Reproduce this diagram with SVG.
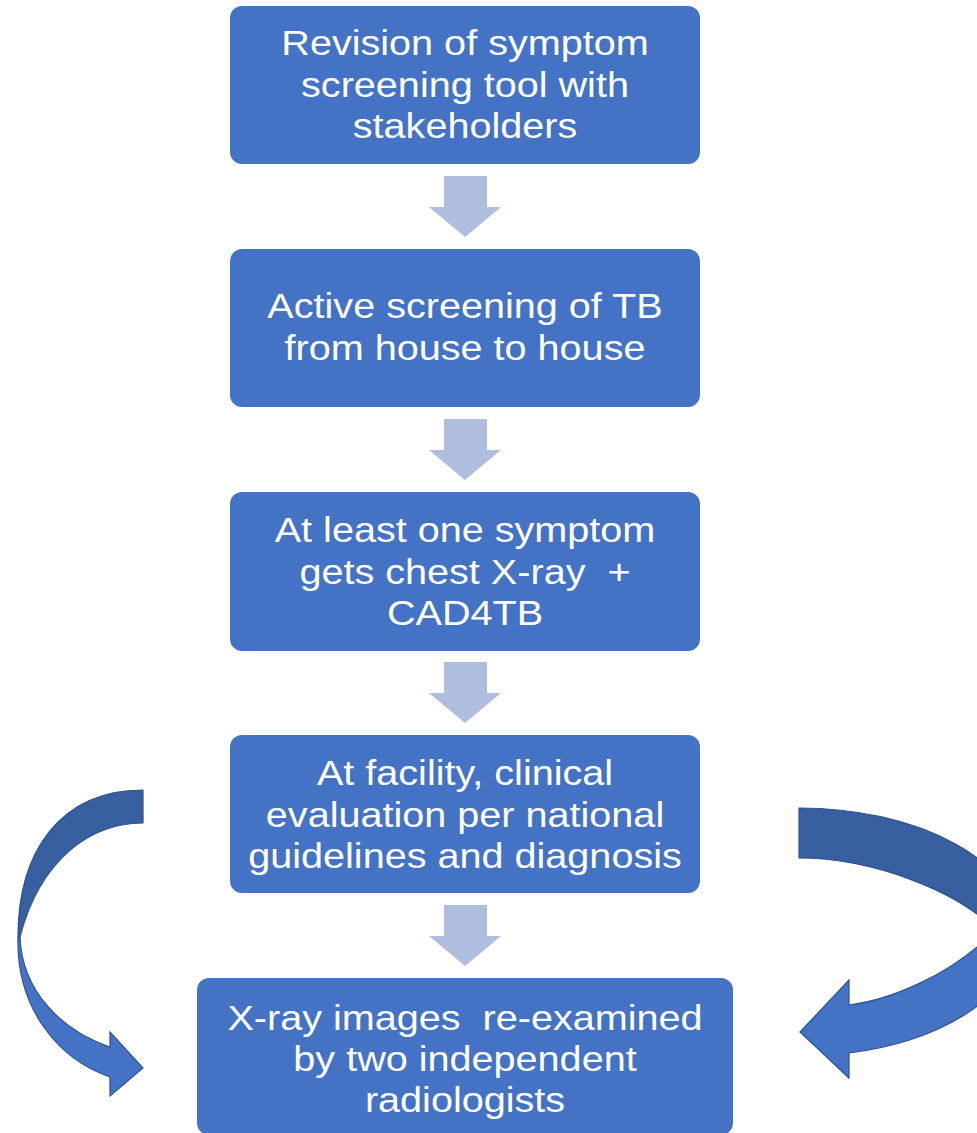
<svg xmlns="http://www.w3.org/2000/svg" width="977" height="1133" viewBox="0 0 977 1133">
  <style>
    .box { fill: #4472C4; }
    .lbl { fill: #FFFFFF; font-family: "Liberation Sans", Arial, sans-serif; font-size: 36px; text-anchor: middle; white-space: pre; }
    .step { fill: #AFBDDF; }
    .back { fill: #375E9F; stroke: #2F528F; stroke-width: 1.2; }
    .front { fill: #4472C4; stroke: #2F528F; stroke-width: 1.2; }
  </style>

  <rect width="977" height="1133" fill="#FFFFFF"/>

  <!-- process steps -->
  <g id="step-revision">
    <rect class="box" x="230" y="6" width="470" height="158" rx="12"/>
    <g transform="translate(465 0) scale(1.1 1)">
      <text class="lbl" x="0" y="55">Revision of symptom</text>
      <text class="lbl" x="0" y="97">screening tool with</text>
      <text class="lbl" x="0" y="138">stakeholders</text>
    </g>
  </g>

  <g id="step-active-screening">
    <rect class="box" x="230" y="249" width="470" height="158" rx="12"/>
    <g transform="translate(465 0) scale(1.1 1)">
      <text class="lbl" x="0" y="318">Active screening of TB</text>
      <text class="lbl" x="0" y="360">from house to house</text>
    </g>
  </g>

  <g id="step-xray">
    <rect class="box" x="230" y="492" width="470" height="159" rx="12"/>
    <g transform="translate(465 0) scale(1.1 1)">
      <text class="lbl" x="0" y="542">At least one symptom</text>
      <text class="lbl" x="0" y="584">gets chest X-ray  +</text>
      <text class="lbl" x="0" y="625">CAD4TB</text>
    </g>
  </g>

  <g id="step-facility">
    <rect class="box" x="230" y="735" width="470" height="158" rx="12"/>
    <g transform="translate(465 0) scale(1.1 1)">
      <text class="lbl" x="0" y="785">At facility, clinical</text>
      <text class="lbl" x="0" y="827">evaluation per national</text>
      <text class="lbl" x="0" y="868">guidelines and diagnosis</text>
    </g>
  </g>

  <g id="step-reexamined">
    <rect class="box" x="197" y="978" width="536" height="157" rx="12"/>
    <g transform="translate(465 0) scale(1.1 1)">
      <text class="lbl" x="0" y="1030">X-ray images  re-examined</text>
      <text class="lbl" x="0" y="1071">by two independent</text>
      <text class="lbl" x="0" y="1112">radiologists</text>
    </g>
  </g>

  <!-- connectors -->
  <g id="connectors">
    <path class="step" d="M444,176 H487 V207 H501 L465,237 L429,207 H444 Z"/>
    <path class="step" d="M444,419 H487 V450 H501 L465,480 L429,450 H444 Z"/>
    <path class="step" d="M444,662 H487 V693 H501 L465,723 L429,693 H444 Z"/>
    <path class="step" d="M444,905 H487 V936 H501 L465,966 L429,936 H444 Z"/>

    <!-- left curved arrow -->
    <g id="curve-left">
      <path class="back" d="M143,790 C60,790 18,852 18,937 L20,937 C40,860 90,823 143,823 Z"/>
      <path class="front" d="M18,937 C16,1010 60,1060 110,1077 L110,1096 L143,1068 L110,1032 L110,1047 C60,1030 22,990 20,937 Z"/>
    </g>

    <!-- right curved arrow -->
    <g id="curve-right">
      <path class="back" d="M799,808 A222,124 0 0 1 1021,932 L1000,935 C960,890 870,858 799,858 Z"/>
      <path class="front" d="M1021,932 A222,124 0 0 1 849,1053 L849,1078 L800,1032 L849,980 L849,1005 C890,1000 950,975 990,935 Z"/>
    </g>
  </g>
</svg>
